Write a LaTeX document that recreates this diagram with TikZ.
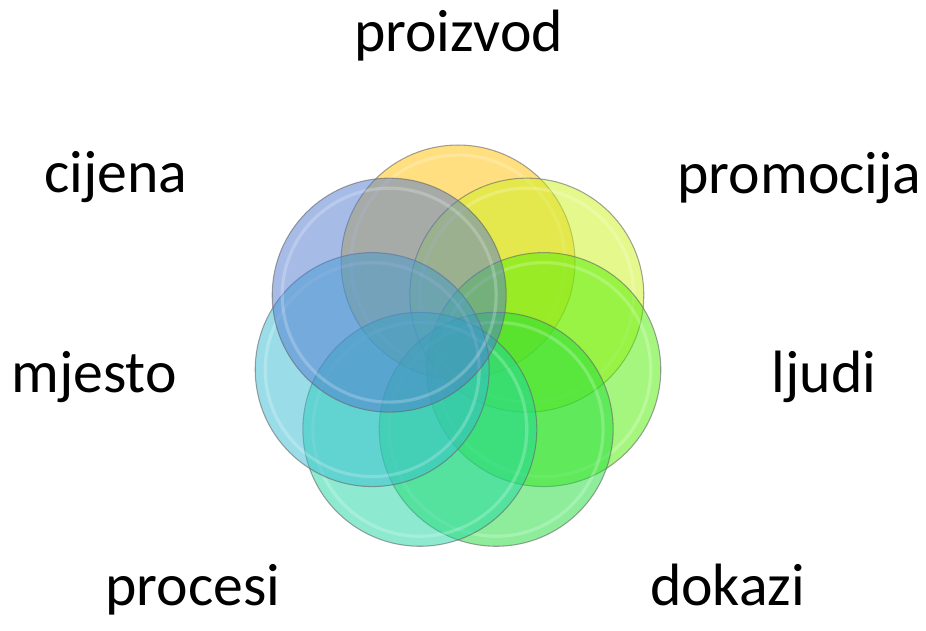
\documentclass[tikz,border=0pt]{standalone}
\usepackage{fontspec}
\setmainfont{Carlito}
\usepackage{tikz}
\usetikzlibrary{calc}

% bubble colours, proizvod first, then going round clockwise
\definecolor{bubProizvod}{HTML}{FFC000}
\definecolor{bubPromocija}{HTML}{CCF21A}
\definecolor{bubLjudi}{HTML}{4CEE00}
\definecolor{bubDokazi}{HTML}{1CDC38}
\definecolor{bubProcesi}{HTML}{1CD6A1}
\definecolor{bubMjesto}{HTML}{36BCD1}
\definecolor{bubCijena}{HTML}{5078D0}

\tikzset{
  bubble/.style={fill=#1, fill opacity=0.5},
  bubblerim/.style={draw=white, draw opacity=0.22, line width=1.8pt},
  bubbleedge/.style={draw=black!60, draw opacity=0.6, line width=0.6pt},
  lbl/.style={anchor=base, inner sep=0pt, font=\fontsize{34}{41}\selectfont}
}

\begin{document}
\begin{tikzpicture}[x=0.02cm, y=0.02cm]
                % Canvas
                \useasboundingbox (0,0) rectangle (926,630);
                \coordinate (C) at (458,280); % middle of the ring

                % Bubbles - seven circles on a ring of radius 88, drawn clockwise from the top
                \foreach \ang/\col in {90/bubProizvod, 38.57/bubPromocija, -12.86/bubLjudi,
                                       -64.29/bubDokazi, -115.71/bubProcesi, -167.14/bubMjesto,
                                       -218.57/bubCijena}{
                    \fill[bubble=\col] ($(C)+(\ang:88)$) circle[radius=2.34cm];
                    \draw[bubblerim] ($(C)+(\ang:88)$) circle[radius=2.14cm];
                    \draw[bubbleedge] ($(C)+(\ang:88)$) circle[radius=2.34cm];
                }

                % Labels
                \node[lbl] (proizvod) at (458.5,578) {proizvod};
                \node[lbl] (promocija) at (799.5,437) {promocija};
                \node[lbl] (ljudi) at (824,238) {ljudi};
                \node[lbl] (dokazi) at (727.5,25) {dokazi};
                \node[lbl] (procesi) at (193,25) {procesi};
                \node[lbl] (mjesto) at (94,238) {mjesto};
                \node[lbl] (cijena) at (116,438) {cijena};
            \end{tikzpicture}
\end{document}
